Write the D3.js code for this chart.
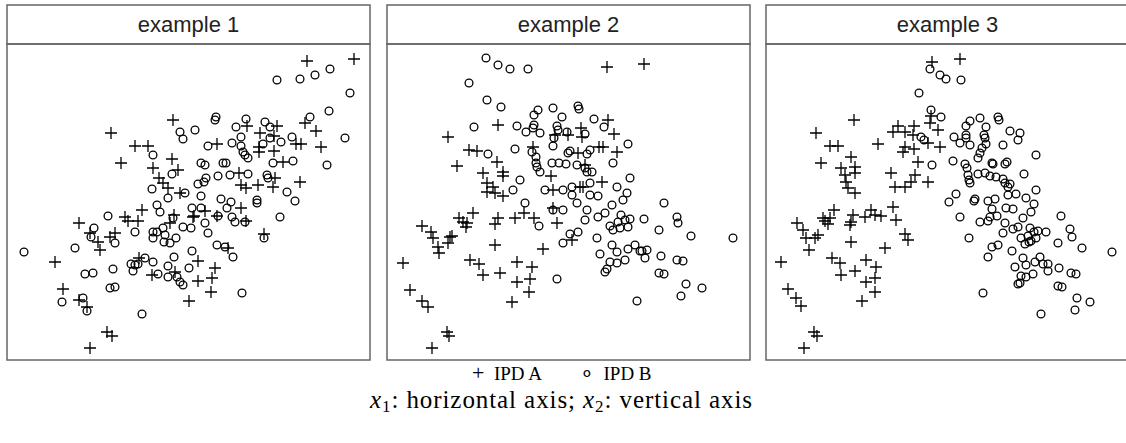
<!DOCTYPE html>
<html>
<head>
<meta charset="utf-8">
<script src="https://cdn.jsdelivr.net/npm/d3@7"></script>
<style>
  html, body { margin: 0; padding: 0; background: #fff; }
  svg { display: block; }
</style>
</head>
<body>
<svg id="chart" width="1126" height="443"></svg>
<script>
// ---------------- DATA ----------------
const panelTitles = ["example 1", "example 2", "example 3"];
const legendLabels = ["IPD A", "IPD B"];
const legendSymbols = ["+", "∘"];

// [x1, x2] values (arbitrary units)
const ipdA1 = [[16.6,24.0],[10.4,22.7],[12.8,21.4],[14.1,21.4],[11.4,19.7],[16.5,20.1],[14.6,19.2],[17.1,19.0],[15.2,18.2],[15.6,17.7],[16.1,17.2],[17.3,16.7],
[30.0,29.9],[34.7,30.1],[29.8,23.7],[30.9,22.9],[31.4,21.3],[28.9,21.6],[29.4,21.6],[27.0,23.4],[26.7,22.4],[25.3,22.7],[25.2,21.3],[26.7,20.9],[25.2,20.8],[24.0,23.4],[21.0,21.6],[27.6,19.8],[26.8,18.2],[23.2,18.7],[23.4,17.5],[23.9,17.2],[25.1,17.5],[26.6,17.3],[29.3,17.8],
[13.5,15.0],[11.8,14.3],[12.1,13.9],[13.1,13.9],[7.2,13.7],[8.3,12.7],[9.1,11.8],[9.3,11.0],[10.3,12.3],[10.8,12.7],[4.8,9.8],[5.6,7.1],[7.2,6.0],[8.0,5.3],[10.0,2.8],[10.5,2.4],[8.3,1.2],[16.3,13.7],[16.7,14.5],[18.6,14.3],[13.2,10.2],[14.5,8.5],[16.8,8.8],[18.2,5.9],
[23.4,15.2],[19.8,14.9],[18.7,14.4],[21.0,14.4],[23.9,13.9],[25.7,12.6],[22.1,11.2],[19.1,9.9],[20.8,9.2],[19.1,7.9],[20.5,8.2],[20.4,6.8]];

const ipdB1 = [[17.3,22.8],[17.6,22.1],[18.8,23.0],[14.6,20.5],[16.5,18.6],[14.5,17.1],[17.8,16.7],[16.1,16.2],
[27.0,28.0],[29.3,28.1],[30.8,28.5],[32.3,29.1],[34.3,26.7],[32.2,24.9],[30.3,24.3],[33.8,22.2],[32.0,19.5],[28.5,22.3],[27.4,21.8],[25.8,23.8],[26.3,23.3],[26.3,22.2],[25.6,21.6],[23.9,24.1],[22.9,23.3],[23.4,22.3],[22.5,21.7],[23.4,21.4],[23.6,20.8],[23.8,20.5],[24.1,20.2],[20.9,24.3],[20.8,24.0],[20.1,21.4],[19.4,19.7],[19.8,19.5],[21.6,19.7],[21.9,19.7],[26.6,19.7],[28.6,19.9],[26.0,18.5],[26.1,18.2],[22.3,18.5],[24.1,18.6],[21.1,18.4],[19.9,18.2],[19.7,17.8],[19.1,17.6],[28.0,16.8],[19.4,16.4],[21.4,16.1],[25.0,16.0],[25.0,15.7],[28.8,15.9],
[15.0,15.5],[15.3,14.8],[10.1,14.4],[12.8,12.8],[8.7,13.2],[8.4,12.3],[10.8,11.7],[1.7,10.8],[6.8,11.2],[7.8,8.6],[8.6,8.7],[10.6,9.1],[10.3,7.2],[10.8,7.3],[5.5,5.8],[7.6,6.2],[8.0,4.9],[13.5,4.6],[14.6,12.8],[15.0,12.8],[14.6,12.2],[15.6,13.2],[15.8,12.5],[15.7,11.8],[16.3,11.7],[16.9,12.2],[16.6,14.2],[17.6,13.3],[18.4,13.2],[18.5,15.2],[13.8,10.2],[12.4,9.6],[12.8,9.5],[13.1,9.6],[12.6,8.9],[14.6,9.8],[15.1,8.6],[16.1,9.4],[16.7,10.3],[16.1,8.3],[17.0,8.3],[17.3,7.8],[17.6,7.5],[18.2,9.2],[18.5,10.9],
[22.4,15.8],[19.4,15.2],[21.1,14.4],[22.0,15.2],[22.5,14.3],[22.8,13.8],[19.8,13.7],[20.1,12.7],[23.8,13.8],[27.3,14.3],[25.7,12.2],[21.0,11.5],[21.8,11.3],[22.6,10.3],[23.5,6.7]];

const ipdA2 = [[11.1,23.5],[6.1,22.3],[16.8,22.5],[8.2,21.0],[9.0,20.9],[14.6,21.3],[7.0,19.4],[11.0,19.8],[9.6,18.7],[11.6,18.8],[11.6,18.4],[16.4,18.4],[10.0,17.7],[10.6,17.3],[10.0,16.8],[10.8,16.7],[11.6,16.4],[16.6,17.0],
[22.0,29.3],[25.7,29.6],[22.1,24.0],[22.7,22.6],[19.4,23.2],[19.5,22.3],[18.1,22.5],[21.2,21.3],[21.6,21.3],[23.0,20.8],[19.1,20.7],[19.8,19.5],[21.5,17.8],[19.3,17.3],[19.6,17.3],
[16.6,15.2],[13.7,14.7],[12.8,14.2],[14.7,14.2],[17.0,13.7],[11.1,14.2],[10.8,13.6],[8.6,14.7],[7.2,14.2],[8.0,13.7],[7.9,13.3],[7.6,13.8],[3.5,13.4],[4.4,12.8],[4.6,12.2],[5.1,11.3],[5.2,10.7],[6.3,12.3],[6.5,12.4],[6.1,11.7],[10.8,11.5],[15.6,11.1],[1.6,9.7],[8.3,10.0],[9.2,9.6],[9.6,8.5],[11.3,8.7],[13.0,9.8],[13.0,7.8],[14.5,9.3],[14.3,8.1],[14.2,6.8],[2.3,7.0],[3.5,5.9],[4.1,5.3],[12.5,5.8],[6.0,2.8],[6.2,2.4],[4.5,1.2],[18.5,12.0]];

const ipdB2 = [[9.9,30.2],[11.1,29.5],[12.3,29.1],[14.1,29.1],[8.2,27.7],[10.0,26.0],[11.4,25.3],[15.1,25.0],[14.7,24.5],[16.6,25.2],[17.5,24.3],[8.7,23.3],[13.0,23.4],[13.9,22.8],[14.7,23.5],[14.6,23.2],[15.3,22.7],[17.0,23.4],[17.1,23.0],[18.0,22.8],[16.7,22.2],[16.6,21.4],[10.1,20.6],[12.8,21.1],[14.5,20.8],[14.9,20.3],[14.9,19.7],[15.0,19.3],[15.3,18.8],[13.3,18.0],[16.5,19.7],[17.2,19.7],[17.9,19.6],[12.6,17.0],[15.8,17.0],[17.6,17.0],
[19.1,25.4],[19.2,25.1],[20.7,24.1],[21.7,23.3],[19.8,22.6],[24.1,21.6],[22.6,19.7],[18.3,20.9],[18.1,20.7],[20.0,20.6],[20.3,21.0],[19.0,19.5],[19.8,19.2],[20.0,18.8],[20.5,18.8],[24.3,18.2],[20.3,17.7],[23.0,17.3],[24.0,16.7],[18.5,17.3],[20.3,16.5],[21.1,16.4],
[13.8,15.7],[16.6,15.0],[17.6,15.0],[15.2,13.4],[17.6,11.7],[17.0,8.1],
[18.5,16.5],[23.6,16.0],[19.0,15.7],[22.5,15.5],[27.7,15.7],[20.0,15.0],[19.8,14.0],[21.1,14.3],[21.8,14.7],[23.4,14.5],[23.1,13.8],[23.8,14.0],[24.3,14.1],[24.1,13.3],[23.3,13.2],[22.6,13.0],[22.3,13.4],[25.7,14.1],[29.0,14.3],[29.1,13.7],[27.2,13.0],[30.4,12.4],[34.6,12.2],[21.0,12.2],[18.3,12.6],[19.1,12.8],[22.5,11.5],[23.0,10.8],[21.3,10.6],[24.1,11.1],[24.8,11.5],[25.3,10.9],[25.5,10.9],[26.0,11.0],[25.8,10.2],[27.4,10.4],[29.0,10.0],[29.6,9.9],[22.3,9.8],[23.0,9.7],[23.8,10.0],[21.8,8.8],[22.0,9.1],[27.2,8.7],[27.7,8.6],[29.9,7.6],[31.5,7.2],[29.4,6.4],[25.0,5.9]];

const ipdA3 = [[16.6,29.8],[19.4,30.1],[16.5,24.4],[8.8,24.0],[16.4,23.7],[5.0,22.7],[13.2,23.4],[12.7,22.8],[13.9,22.8],[14.8,23.4],[14.7,22.5],[17.2,23.0],[16.2,21.7],[17.4,21.3],[6.4,21.4],[7.2,21.4],[11.2,21.6],[13.9,21.3],[14.8,21.1],[13.7,20.8],[15.2,19.8],[5.5,19.7],[8.5,20.3],[7.5,19.2],[8.9,19.3],[8.9,18.7],[7.9,18.5],[8.0,17.8],[8.2,17.2],[8.9,16.7],[12.5,18.7],[12.9,17.3],[13.9,17.3],[14.5,17.8],[14.9,18.5],[16.2,17.8],
[12.7,15.3],[13.0,14.0],[6.8,15.0],[6.4,14.2],[5.7,14.2],[6.2,13.6],[5.9,13.9],[8.7,14.5],[8.5,13.8],[8.4,13.5],[9.9,14.3],[10.5,15.0],[10.9,14.5],[11.5,14.4],[3.1,13.7],[3.7,13.0],[4.0,12.2],[4.3,11.0],[5.2,12.5],[4.9,12.2],[8.5,11.8],[13.9,12.6],[14.2,12.0],[11.9,11.2],[1.5,9.8],[6.6,10.2],[7.4,9.7],[7.5,8.5],[8.9,8.9],[10.0,10.0],[11.0,9.3],[10.9,8.2],[10.0,7.8],[10.9,6.8],[2.2,7.1],[3.0,6.2],[3.5,5.4],[9.6,5.9],[4.8,2.8],[5.1,2.4],[3.8,1.2]];

const ipdB3 = [[16.4,29.1],[17.4,28.5],[18.0,28.1],[19.5,28.0],[15.3,26.7],[16.5,25.0],[17.5,24.3],[15.5,22.3],[15.8,22.0],[16.6,19.5],
[20.4,23.9],[20.0,23.4],[21.4,24.2],[22.0,23.3],[23.2,24.3],[23.3,24.0],[18.8,22.3],[19.4,21.7],[20.0,22.5],[20.0,22.2],[20.4,21.5],[21.8,22.5],[21.9,22.2],[22.0,21.6],[21.6,21.2],[21.4,20.7],[21.2,20.2],[23.7,21.5],[24.4,22.9],[25.4,22.7],[25.2,22.0],[27.0,20.5],[18.7,19.9],[19.9,19.6],[20.1,19.2],[22.6,19.7],[22.7,19.6],[23.9,19.6],[24.1,19.8],[20.2,18.5],[20.3,18.0],[20.4,17.7],[21.2,18.6],[21.9,18.7],[22.4,18.4],[23.0,18.3],[23.7,18.1],[23.9,17.7],[24.4,17.6],[24.2,17.3],[25.8,18.6],[27.0,17.0],[19.0,16.6],[20.9,16.1],[20.8,15.9],[22.9,16.1],[25.0,16.6],[26.0,16.2],
[18.3,15.8],[22.2,15.9],[24.2,16.5],[26.8,15.6],[22.6,15.1],[24.0,15.2],[24.7,15.1],[26.5,14.8],[19.4,14.3],[21.4,13.8],[22.2,13.9],[22.4,14.3],[23.1,14.4],[25.7,14.2],[29.5,14.4],[23.9,13.7],[20.3,12.2],[23.7,12.7],[24.7,13.1],[25.2,13.3],[26.4,13.2],[26.8,12.8],[27.2,12.9],[28.0,12.8],[25.5,12.2],[26.2,12.4],[26.3,11.8],[26.5,11.9],[27.0,12.2],[25.9,11.6],[30.4,13.1],[30.6,12.3],[29.2,11.7],[22.6,11.3],[23.2,11.5],[22.2,10.3],[24.6,10.9],[25.7,10.2],[27.4,10.3],[26.9,9.8],[27.7,9.6],[28.2,9.6],[24.9,9.3],[26.0,9.5],[28.2,8.9],[29.3,9.2],[30.5,8.7],[31.0,8.6],[31.6,11.2],[34.6,10.8],[25.5,8.4],[26.0,8.3],[26.7,8.6],[25.2,7.6],[25.4,7.7],[29.2,7.4],[29.6,7.3],[31.1,6.2],[32.4,5.8],[30.9,5.0],[21.7,6.7],[27.5,4.6]];

const seriesA = [ipdA1, ipdA2, ipdA3];
const seriesB = [ipdB1, ipdB2, ipdB3];
const xDomain = [0, 36.3];
const yDomain = [0, 31.6];

// ---------------- LAYOUT ----------------
const svg = d3.select("#chart");
const panelLeft = [7, 387, 766];
const panelW = 363;
const panelTop = 5, stripH = 39, panelBottom = 360;
const borderCol = "#666";

panelTitles.forEach((title, i) => {
  const L = panelLeft[i];
  const x = d3.scaleLinear().domain(xDomain).range([L, L + panelW]);
  const y = d3.scaleLinear().domain(yDomain).range([panelBottom, panelTop + stripH]);
  const g = svg.append("g");

  g.append("rect").attr("x", L).attr("y", panelTop).attr("width", panelW).attr("height", stripH)
    .attr("fill", "#fff").attr("stroke", borderCol).attr("stroke-width", 1.5);
  g.append("text").attr("x", L + panelW / 2).attr("y", panelTop + stripH / 2)
    .attr("text-anchor", "middle").attr("dominant-baseline", "central")
    .attr("font-family", "Liberation Sans, Arial, sans-serif").attr("font-size", 22)
    .attr("fill", "#222").text(title);

  g.append("rect").attr("x", L).attr("y", panelTop + stripH).attr("width", panelW)
    .attr("height", panelBottom - panelTop - stripH)
    .attr("fill", "none").attr("stroke", borderCol).attr("stroke-width", 1.5);

  const s = 6;
  g.append("g").selectAll("path").data(seriesA[i]).join("path")
    .attr("d", d => `M${x(d[0]) - s},${y(d[1])}h${2 * s}M${x(d[0])},${y(d[1]) - s}v${2 * s}`)
    .attr("stroke", "#000").attr("stroke-width", 1.3).attr("fill", "none");

  g.append("g").selectAll("circle").data(seriesB[i]).join("circle")
    .attr("cx", d => x(d[0])).attr("cy", d => y(d[1])).attr("r", 3.9)
    .attr("stroke", "#000").attr("stroke-width", 1.3).attr("fill", "none");
});

// ---------------- LEGEND ----------------
const serif = "Liberation Serif, Times New Roman, serif";
const leg = svg.append("g").attr("font-family", serif).attr("fill", "#000");
const legX = [472, 580];
legendLabels.forEach((lab, i) => {
  const t = leg.append("text").attr("x", legX[i]).attr("y", 380).attr("font-size", 19);
  t.append("tspan").attr("font-size", 22).text(legendSymbols[i]);
  t.append("tspan").text("\u2002" + lab);
});

const t2 = leg.append("text").attr("x", 370).attr("y", 408).attr("font-size", 25)
  .attr("textLength", 382).attr("lengthAdjust", "spacing");
t2.append("tspan").attr("font-style", "italic").text("x");
t2.append("tspan").attr("font-size", 17).attr("dy", 4).text("1");
t2.append("tspan").attr("dy", -4).text(": horizontal axis; ");
t2.append("tspan").attr("font-style", "italic").text("x");
t2.append("tspan").attr("font-size", 17).attr("dy", 4).text("2");
t2.append("tspan").attr("dy", -4).text(": vertical axis");
</script>
</body>
</html>
